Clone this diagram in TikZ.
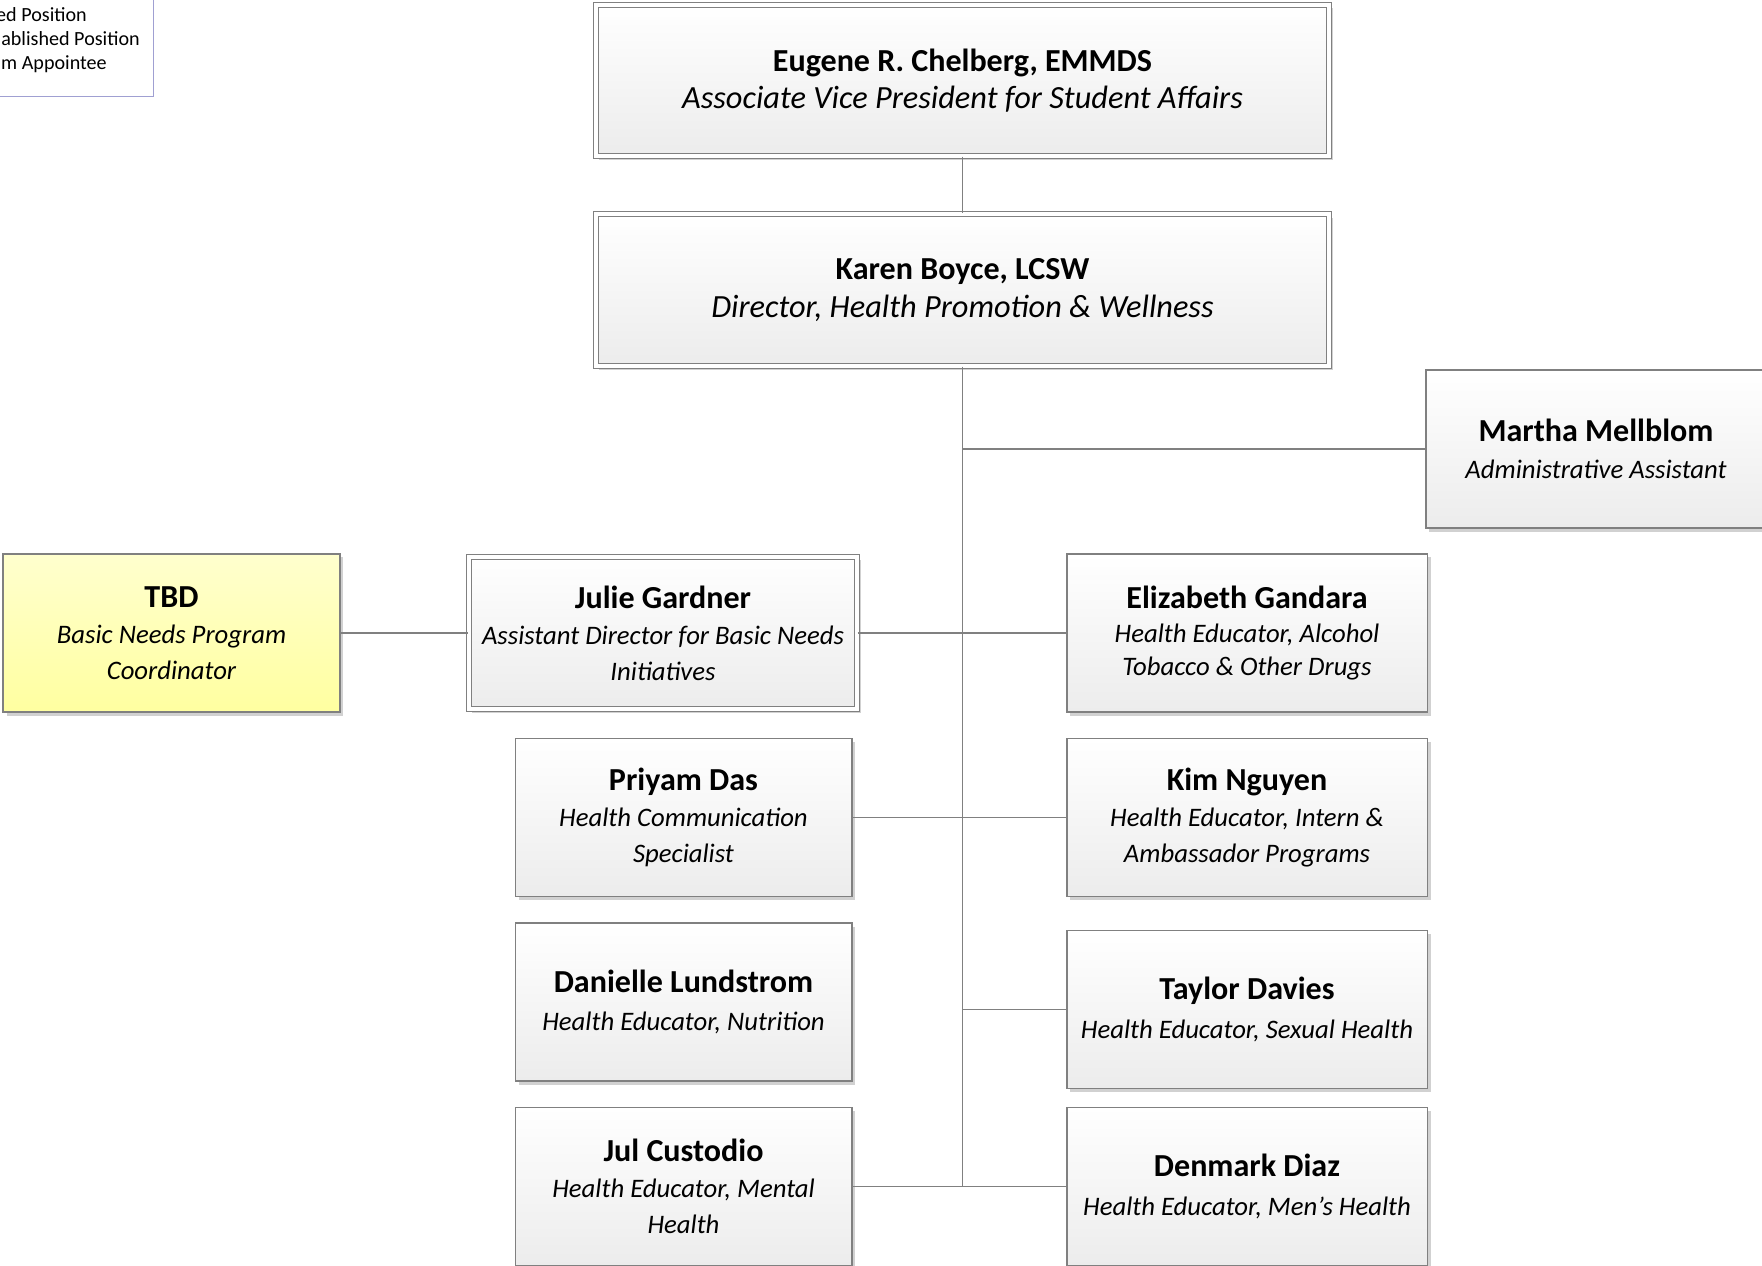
\documentclass[tikz,border=0pt]{standalone}
\usepackage{fontspec}
\setmainfont{Carlito}
\usepackage{tikz}
\usetikzlibrary{positioning,shadows}

\definecolor{boxline}{RGB}{128,128,128}
\definecolor{boxlow}{RGB}{236,236,236}
\definecolor{tbdtop}{RGB}{255,255,206}
\definecolor{tbdlow}{RGB}{255,255,160}
\definecolor{legendline}{RGB}{160,160,210}

\newcommand{\boxname}[1]{{\fontsize{22.8pt}{27pt}\selectfont\bfseries #1}}
\newcommand{\boxrole}{\itshape}
\newcommand{\headrole}{\fontsize{23pt}{28pt}\selectfont\itshape}

\tikzset{
  posbox/.style={draw=boxline, line width=0.8pt, rectangle, align=center,
    top color=white, bottom color=boxlow, inner sep=2pt,
    font=\fontsize{19pt}{25.6pt}\selectfont,
    drop shadow={shadow xshift=2.5pt, shadow yshift=-2.5pt, fill=black, opacity=0.18}},
  headbox/.style={posbox, double=white, double distance=2.6pt},
  tbdbox/.style={posbox, top color=tbdtop, bottom color=tbdlow},
  link/.style={draw=boxline, line width=0.9pt}
}

\begin{document}
\begin{tikzpicture}[x=0.025cm, y=-0.025cm]
        \useasboundingbox (0,0) rectangle (1762,1266);

        % Legend (cut off at the page edge)
        \draw[legendline, line width=0.6pt] (-20,-20) rectangle (153,96);
        \node[anchor=east, font=\fontsize{14.3pt}{17pt}\selectfont, inner sep=0pt] (legfilled) at (87,15) {ed Position};
        \node[anchor=east, font=\fontsize{14.3pt}{17pt}\selectfont, inner sep=0pt] (legestab) at (140,39) {ablished Position};
        \node[anchor=east, font=\fontsize{14.3pt}{17pt}\selectfont, inner sep=0pt] (leginterim) at (107,64) {m Appointee};

        % Top of the chart
        \node[headbox, minimum width=18.33cm, minimum height=3.78cm] (avp) at (962.5,80.5)
          {\boxname{Eugene R. Chelberg, EMMDS}\\[1pt]\headrole Associate Vice President for Student Affairs};
        \node[headbox, minimum width=18.33cm, minimum height=3.8cm, below=1.42cm of avp] (director)
          {\boxname{Karen Boyce, LCSW}\\[1pt]\headrole Director, Health Promotion \& Wellness};
        \node[posbox, minimum width=8.5cm, minimum height=3.95cm] (admin) at (1596,449)
          {\boxname{Martha Mellblom}\\[1pt]\boxrole Administrative Assistant};

        % Left column
        \node[headbox, minimum width=9.7cm, minimum height=3.8cm] (gardner) at (663,633)
          {\boxname{Julie Gardner}\\\boxrole Assistant Director for Basic Needs\\\boxrole Initiatives};
        \node[tbdbox, minimum width=8.42cm, minimum height=3.95cm] (tbd) at (171.5,633)
          {\boxname{TBD}\\\boxrole Basic Needs Program\\\boxrole Coordinator};
        \node[posbox, minimum width=8.42cm, minimum height=3.95cm] (das) at (683.5,817.5)
          {\boxname{Priyam Das}\\\boxrole Health Communication\\\boxrole Specialist};
        \node[posbox, minimum width=8.42cm, minimum height=3.95cm] (lundstrom) at (683.5,1002)
          {\boxname{Danielle Lundstrom}\\[2pt]\boxrole Health Educator, Nutrition};
        \node[posbox, minimum width=8.42cm, minimum height=3.95cm] (custodio) at (683.5,1186.5)
          {\boxname{Jul Custodio}\\\boxrole Health Educator, Mental\\\boxrole Health};

        % Right column
        \node[posbox, minimum width=9cm, minimum height=3.95cm] (gandara) at (1247,633)
          {\boxname{Elizabeth Gandara}\\[-1pt]\boxrole Health Educator, Alcohol\\[-2pt]\boxrole Tobacco \& Other Drugs};
        \node[posbox, minimum width=9cm, minimum height=3.95cm] (nguyen) at (1247,817.5)
          {\boxname{Kim Nguyen}\\\boxrole Health Educator, Intern \&\\\boxrole Ambassador Programs};
        \node[posbox, minimum width=9cm, minimum height=3.95cm] (davies) at (1247,1009.5)
          {\boxname{Taylor Davies}\\[2pt]\boxrole Health Educator, Sexual Health};
        \node[posbox, minimum width=9cm, minimum height=3.95cm] (diaz) at (1247,1186.5)
          {\boxname{Denmark Diaz}\\[2pt]\boxrole Health Educator, Men’s Health};

        % Connectors
        \coordinate (trunkend) at (custodio.east -| director.south);
        \draw[link] (avp.south) -- (director.south |- director.north);
        \draw[link] (director.south) -- (trunkend);
        \draw[link] (admin.west -| director.south) -- (admin.west);
        \draw[link] (tbd.east) -- (gardner.west);
        \draw[link] (gardner.east) -- (gandara.west);
        \draw[link] (das.east) -- (nguyen.west);
        \draw[link] (davies.west -| director.south) -- (davies.west);
        \draw[link] (custodio.east) -- (diaz.west);
    \end{tikzpicture}
\end{document}
